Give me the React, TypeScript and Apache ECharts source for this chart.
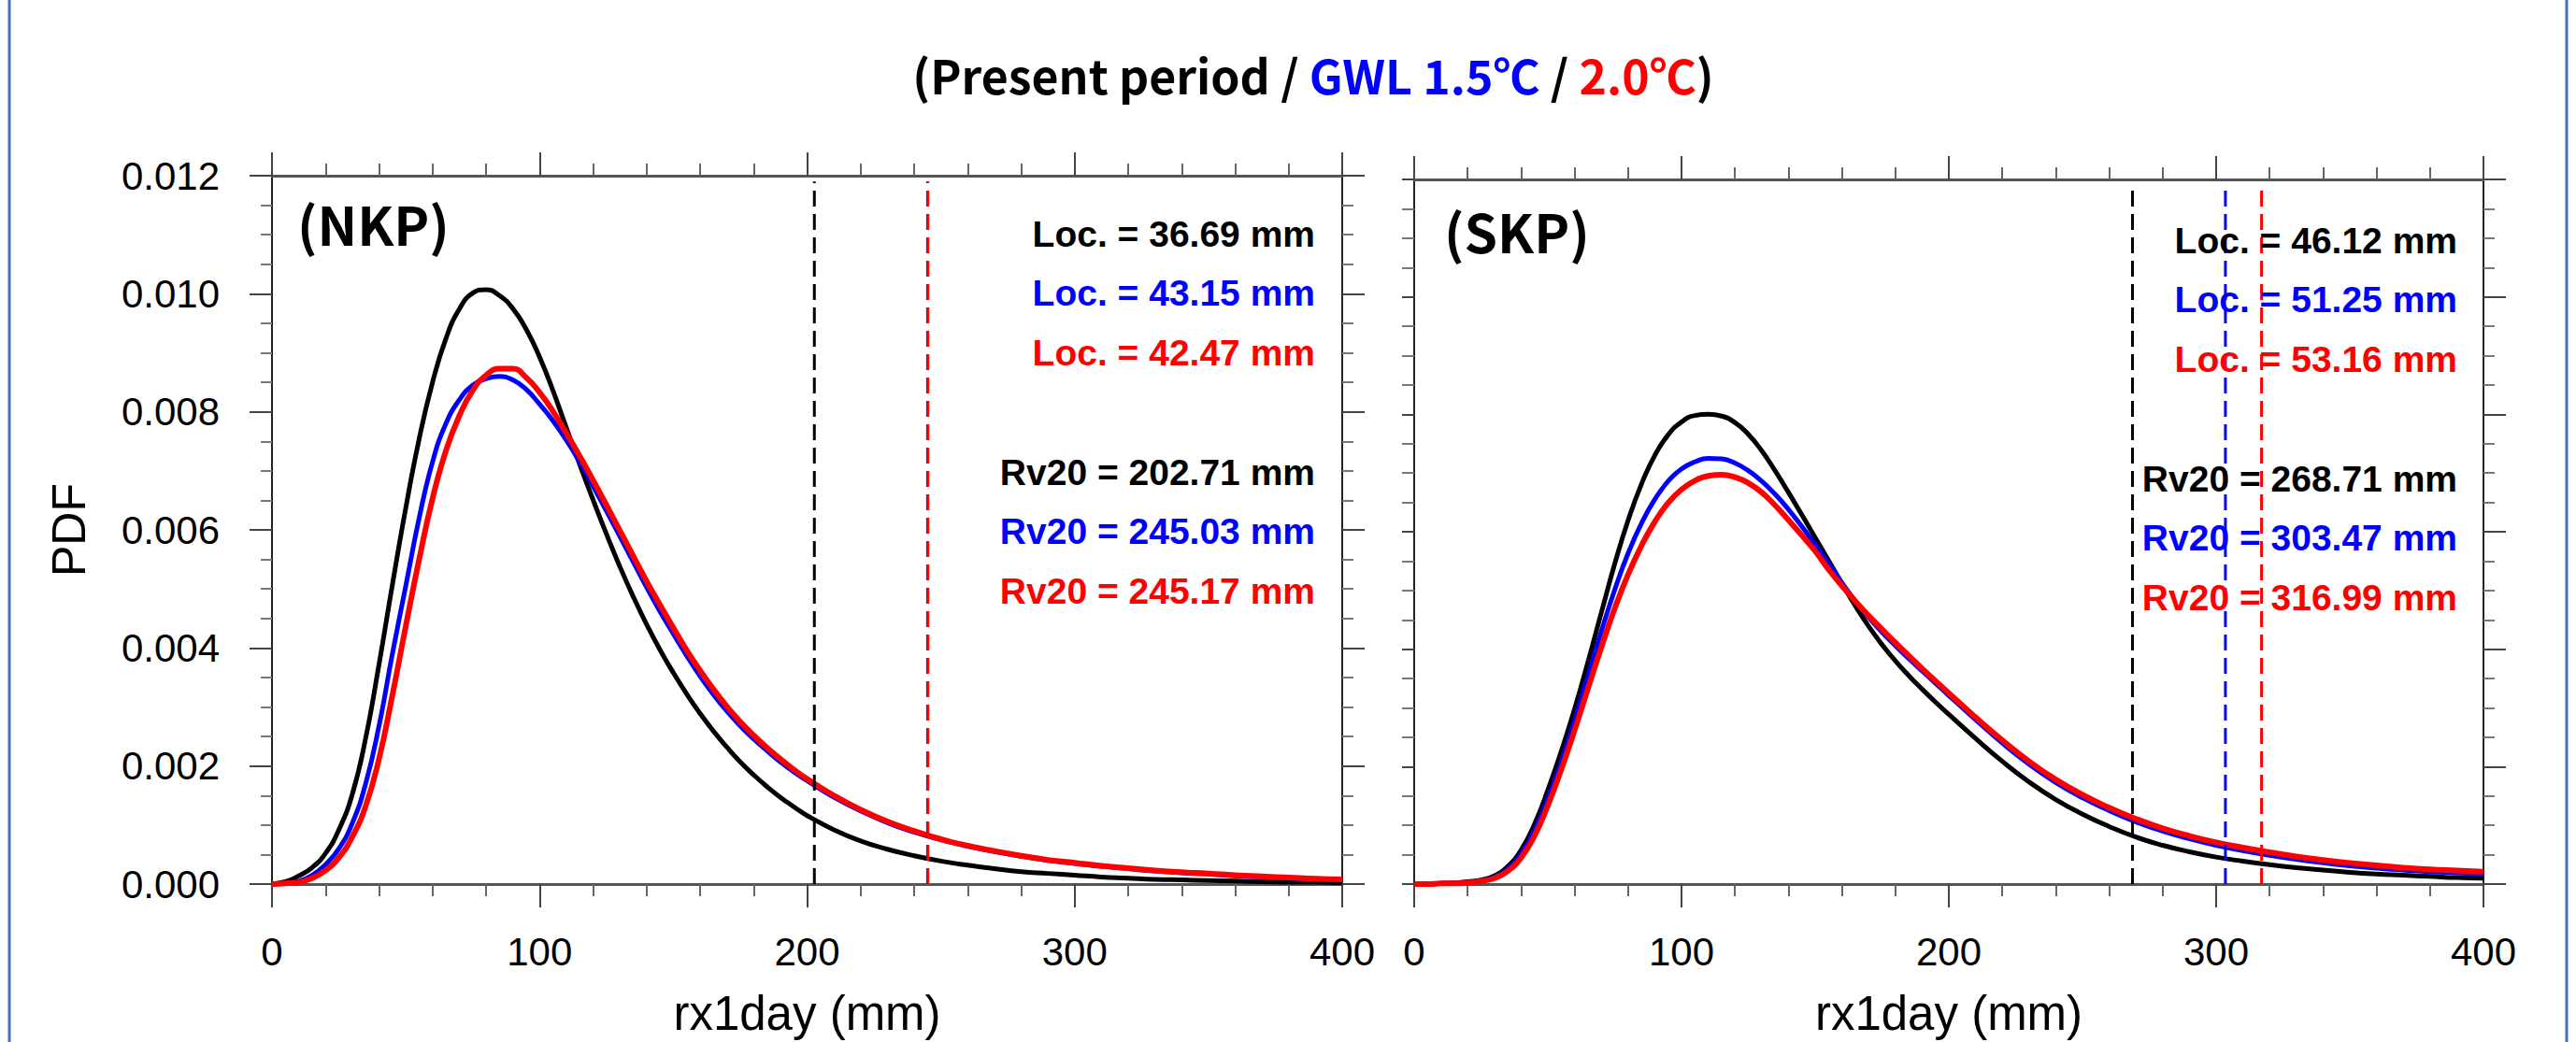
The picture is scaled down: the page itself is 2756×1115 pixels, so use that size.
import React, { useEffect, useRef } from 'react';
import * as echarts from 'echarts';

// rx1day grid (mm): 5 mm steps to 200, 10 mm steps to 400
const X_MM = [0, 5, 10, 15, 20, 25, 30, 35, 40, 45, 50, 55, 60, 65, 70, 75, 80, 85, 90, 95, 100,
  105, 110, 115, 120, 125, 130, 135, 140, 145, 150, 155, 160, 165, 170, 175, 180, 185, 190, 195, 200,
  210, 220, 230, 240, 250, 260, 270, 280, 290, 300, 310, 320, 330, 340, 350, 360, 370, 380, 390, 400];

// NKP PDFs
const NKP_PRESENT = [0, 0.00004, 0.00014, 0.00028, 0.00052, 0.00092, 0.00152, 0.00247, 0.00372, 0.00507, 0.00637,
  0.00754, 0.0085, 0.00924, 0.00974, 0.01001, 0.01007, 0.00997, 0.00975, 0.0094, 0.00893,
  0.00836, 0.00773, 0.00711, 0.00651, 0.00593, 0.00538, 0.00487, 0.0044, 0.00397, 0.00358,
  0.00322, 0.00289, 0.00259, 0.00232, 0.00207, 0.00185, 0.00165, 0.00147, 0.00131, 0.00116,
  0.00092, 0.00073, 0.00059, 0.00048, 0.00039, 0.00032, 0.00026, 0.00021, 0.00018, 0.00015,
  0.00012, 0.0001, 0.00008, 0.00007, 0.00006, 0.00005, 0.00004, 0.00003, 0.00003, 0.00002];
const NKP_GWL15 = [0, 0.00001, 0.00005, 0.00015, 0.00033, 0.0006, 0.00103, 0.0017, 0.00268, 0.0039, 0.00505,
  0.0062, 0.00715, 0.0078, 0.0082, 0.00845, 0.00856, 0.0086, 0.00854, 0.00838, 0.00813,
  0.00785, 0.00752, 0.00715, 0.00674, 0.00632, 0.00589, 0.00546, 0.00503, 0.00462, 0.00424,
  0.00387, 0.00352, 0.00321, 0.00293, 0.00268, 0.00246, 0.00226, 0.00207, 0.0019, 0.00175,
  0.00147, 0.00124, 0.00104, 0.00088, 0.00075, 0.00064, 0.00055, 0.00047, 0.0004, 0.00035,
  0.0003, 0.00026, 0.00022, 0.00019, 0.00017, 0.00014, 0.00012, 0.0001, 0.00008, 0.00007];
const NKP_GWL20 = [0, 0.00001, 0.00003, 0.0001, 0.00023, 0.00045, 0.0008, 0.00132, 0.00212, 0.0032, 0.00437,
  0.0055, 0.00653, 0.00734, 0.00793, 0.00836, 0.00862, 0.00873, 0.00873, 0.00858, 0.00833,
  0.00801, 0.00764, 0.00725, 0.00684, 0.00642, 0.00599, 0.00556, 0.00513, 0.00473, 0.00434,
  0.00396, 0.00362, 0.0033, 0.00301, 0.00275, 0.00252, 0.00231, 0.00212, 0.00194, 0.00178,
  0.0015, 0.00126, 0.00106, 0.0009, 0.00076, 0.00065, 0.00056, 0.00048, 0.00041, 0.00036,
  0.00031, 0.00027, 0.00023, 0.0002, 0.00018, 0.00015, 0.00013, 0.00011, 0.00009, 0.00008];

// SKP PDFs
const SKP_PRESENT = [0, 0, 0.00001, 0.00002, 0.00004, 0.00007, 0.00014, 0.0003, 0.00058, 0.00102, 0.0016,
  0.00226, 0.00298, 0.00378, 0.00462, 0.00545, 0.00619, 0.00681, 0.0073, 0.00765, 0.00787,
  0.00798, 0.008, 0.00797, 0.00786, 0.00766, 0.00738, 0.00704, 0.00667, 0.00629, 0.0059,
  0.00551, 0.00512, 0.00474, 0.00439, 0.00408, 0.0038, 0.00355, 0.00332, 0.0031, 0.00289,
  0.00248, 0.00209, 0.00174, 0.00144, 0.00119, 0.00098, 0.0008, 0.00066, 0.00055, 0.00046,
  0.00039, 0.00033, 0.00028, 0.00024, 0.0002, 0.00017, 0.00015, 0.00013, 0.00011, 0.0001];
const SKP_GWL15 = [0, 0, 0.00001, 0.00002, 0.00003, 0.00006, 0.00012, 0.00026, 0.00052, 0.00092, 0.00146,
  0.00209, 0.00279, 0.00355, 0.0043, 0.00501, 0.00563, 0.00614, 0.00655, 0.00686, 0.00707,
  0.00719, 0.00725, 0.00724, 0.00717, 0.00704, 0.00686, 0.00664, 0.00638, 0.00609, 0.00578,
  0.00546, 0.00513, 0.00482, 0.00454, 0.00429, 0.00406, 0.00384, 0.00363, 0.00342, 0.00321,
  0.0028, 0.0024, 0.00204, 0.00173, 0.00147, 0.00125, 0.00106, 0.0009, 0.00077, 0.00066,
  0.00057, 0.00049, 0.00042, 0.00036, 0.00031, 0.00027, 0.00024, 0.00021, 0.00019, 0.00017];
const SKP_GWL20 = [0, 0, 0.00001, 0.00001, 0.00002, 0.00005, 0.0001, 0.00022, 0.00045, 0.00082, 0.00134,
  0.00195, 0.00262, 0.00333, 0.00403, 0.00469, 0.00527, 0.00576, 0.00617, 0.00649, 0.00672,
  0.00687, 0.00695, 0.00697, 0.00693, 0.00683, 0.00667, 0.00645, 0.0062, 0.00594, 0.00567,
  0.00536, 0.00508, 0.00482, 0.00457, 0.00434, 0.00411, 0.00389, 0.00367, 0.00346, 0.00325,
  0.00284, 0.00245, 0.00209, 0.00178, 0.00152, 0.0013, 0.00111, 0.00095, 0.00082, 0.00071,
  0.00062, 0.00054, 0.00047, 0.00041, 0.00036, 0.00032, 0.00028, 0.00025, 0.00023, 0.00021];

// Parameters (Present, GWL 1.5, GWL 2.0)
const NKP_LOC = [36.69, 43.15, 42.47];
const NKP_RV20 = [202.71, 245.03, 245.17];
const SKP_LOC = [46.12, 51.25, 53.16];
const SKP_RV20 = [268.71, 303.47, 316.99];

const X_TICKS = [0, 100, 200, 300, 400];
const Y_TICKS = [0, 0.002, 0.004, 0.006, 0.008, 0.01, 0.012];

const COLORS = ['#000000', '#0000ff', '#ff0000'];
const LINE_WIDTHS = [5, 5, 6];
const SANS = "'Liberation Sans', Arial, Helvetica, sans-serif";
const CJK = "'Noto Sans CJK KR', 'Noto Sans', sans-serif";

function buildOption() {
  const grids = [
    { left: 291, top: 188, width: 1145, height: 762 },
    { left: 1513, top: 192, width: 1144, height: 762 },
  ];

  const xAxis: any[] = [];
  const yAxis: any[] = [];
  for (let g = 0; g < 2; g++) {
    const base = {
      type: 'value', gridIndex: g, min: X_TICKS[0], max: X_TICKS[X_TICKS.length - 1], interval: 100,
      splitLine: { show: false }, minorSplitLine: { show: false },
    };
    xAxis.push({
      ...base, position: 'bottom',
      axisLine: { show: true, onZero: false, lineStyle: { color: '#555', width: 3 } },
      axisTick: { show: true, length: 25, lineStyle: { color: '#444', width: 2 } },
      minorTick: { show: true, splitNumber: 5, length: 13, lineStyle: { color: '#666', width: 2 } },
      axisLabel: { show: true, margin: 51, fontSize: 42, color: '#000', fontFamily: SANS },
      name: 'rx1day (mm)', nameLocation: 'middle', nameGap: 113,
      nameTextStyle: { fontSize: 51, color: '#000', fontFamily: SANS },
    });
    xAxis.push({
      ...base, position: 'top',
      axisLine: { show: true, onZero: false, lineStyle: { color: '#555', width: 3 } },
      axisTick: { show: true, length: 25, lineStyle: { color: '#444', width: 2 } },
      minorTick: { show: true, splitNumber: 5, length: 13, lineStyle: { color: '#666', width: 2 } },
      axisLabel: { show: false },
    });
    const ybase = {
      type: 'value', gridIndex: g, min: Y_TICKS[0], max: Y_TICKS[Y_TICKS.length - 1], interval: 0.002,
      splitLine: { show: false }, minorSplitLine: { show: false },
    };
    yAxis.push({
      ...ybase, position: 'left',
      axisLine: { show: true, onZero: false, lineStyle: { color: '#222', width: 2 } },
      axisTick: { show: true, length: g === 0 ? 24 : 13, lineStyle: { color: '#444', width: 2 } },
      minorTick: { show: true, splitNumber: 4, length: g === 0 ? 12 : 13, lineStyle: { color: '#777', width: 2 } },
      axisLabel: g === 0
        ? { show: true, margin: 56, fontSize: 42, color: '#000', fontFamily: SANS, formatter: (v: number) => v.toFixed(3) }
        : { show: false },
      ...(g === 0 ? {
        name: 'PDF', nameLocation: 'middle', nameGap: 192,
        nameTextStyle: { fontSize: 50, color: '#000', fontFamily: SANS },
      } : {}),
    });
    yAxis.push({
      ...ybase, position: 'right',
      axisLine: { show: true, onZero: false, lineStyle: { color: '#222', width: 2 } },
      axisTick: { show: true, length: 24, lineStyle: { color: '#444', width: 2 } },
      minorTick: { show: true, splitNumber: 4, length: 12, lineStyle: { color: '#777', width: 2 } },
      axisLabel: { show: false },
    });
  }

  const panels = [
    { curves: [NKP_PRESENT, NKP_GWL15, NKP_GWL20], rv: NKP_RV20 },
    { curves: [SKP_PRESENT, SKP_GWL15, SKP_GWL20], rv: SKP_RV20 },
  ];
  const names = ['Present', 'GWL 1.5', 'GWL 2.0'];
  const series: any[] = [];
  panels.forEach((p, g) => {
    p.curves.forEach((vals, i) => {
      series.push({
        type: 'line', name: names[i], xAxisIndex: 2 * g, yAxisIndex: 2 * g,
        data: X_MM.map((x, k) => [x, vals[k]]),
        smooth: true, showSymbol: false, silent: true,
        lineStyle: { color: COLORS[i], width: LINE_WIDTHS[i] },
        z: 2 + i,
      });
    });
    p.rv.forEach((r, i) => {
      series.push({
        type: 'line', name: names[i] + ' Rv20', xAxisIndex: 2 * g, yAxisIndex: 2 * g,
        data: [[r, 0], [r, 0.0119]],
        showSymbol: false, silent: true,
        lineStyle: { color: COLORS[i], width: 3, type: [17, 8] },
        z: 6 + i,
      });
    });
  });

  const graphic: any[] = [
    { type: 'line', shape: { x1: 10, y1: 0, x2: 10, y2: 1115 }, style: { stroke: '#4472C4', lineWidth: 3 }, silent: true },
    { type: 'line', shape: { x1: 2746, y1: 0, x2: 2746, y2: 1115 }, style: { stroke: '#4472C4', lineWidth: 3 }, silent: true },
    {
      type: 'text', x: 1405, y: 79, z: 100, silent: true,
      style: {
        text: '{k|(Present period / }{b|GWL 1.5℃}{k| / }{r|2.0℃}{k|)}',
        align: 'center', verticalAlign: 'middle',
        fontSize: 50, fontWeight: 'bold', fontFamily: CJK,
        rich: {
          k: { fill: '#000', fontSize: 50, fontWeight: 'bold', fontFamily: CJK },
          b: { fill: '#0000ff', fontSize: 50, fontWeight: 'bold', fontFamily: CJK },
          r: { fill: '#ff0000', fontSize: 50, fontWeight: 'bold', fontFamily: CJK },
        },
      },
    },
    {
      type: 'text', x: 318, y: 238, z: 100, silent: true,
      style: { text: '(NKP)', fill: '#000', fontSize: 57, fontWeight: 'bold', fontFamily: CJK, align: 'left', verticalAlign: 'middle' },
    },
    {
      type: 'text', x: 1545, y: 246, z: 100, silent: true,
      style: { text: '(SKP)', fill: '#000', fontSize: 57, fontWeight: 'bold', fontFamily: CJK, align: 'left', verticalAlign: 'middle' },
    },
  ];

  const annot = [
    { x: 1407, y0: 250, loc: NKP_LOC, rv: NKP_RV20 },
    { x: 2629, y0: 257, loc: SKP_LOC, rv: SKP_RV20 },
  ];
  annot.forEach((a) => {
    a.loc.forEach((v, i) => {
      graphic.push({
        type: 'text', x: a.x, y: a.y0 + i * 63.5, z: 100, silent: true,
        style: { text: `Loc. = ${v.toFixed(2)} mm`, fill: COLORS[i], fontSize: 39, fontWeight: 'bold', fontFamily: SANS, align: 'right', verticalAlign: 'middle' },
      });
    });
    a.rv.forEach((v, i) => {
      graphic.push({
        type: 'text', x: a.x, y: a.y0 + 255 + i * 63.5, z: 100, silent: true,
        style: { text: `Rv20 = ${v.toFixed(2)} mm`, fill: COLORS[i], fontSize: 39, fontWeight: 'bold', fontFamily: SANS, align: 'right', verticalAlign: 'middle' },
      });
    });
  });

  return {
    animation: false,
    backgroundColor: '#ffffff',
    textStyle: { fontFamily: SANS },
    grid: grids,
    xAxis,
    yAxis,
    series,
    graphic,
  };
}

export default function App() {
  const ref = useRef<HTMLDivElement>(null);
  useEffect(() => {
    if (!ref.current) return;
    const chart = echarts.init(ref.current, null, { renderer: 'svg' });
    chart.setOption(buildOption() as any);
    return () => chart.dispose();
  }, []);
  return (
    <div
      ref={ref}
      style={{ position: 'fixed', left: 0, top: 0, width: 2756, height: 1115, background: '#fff' }}
    />
  );
}
